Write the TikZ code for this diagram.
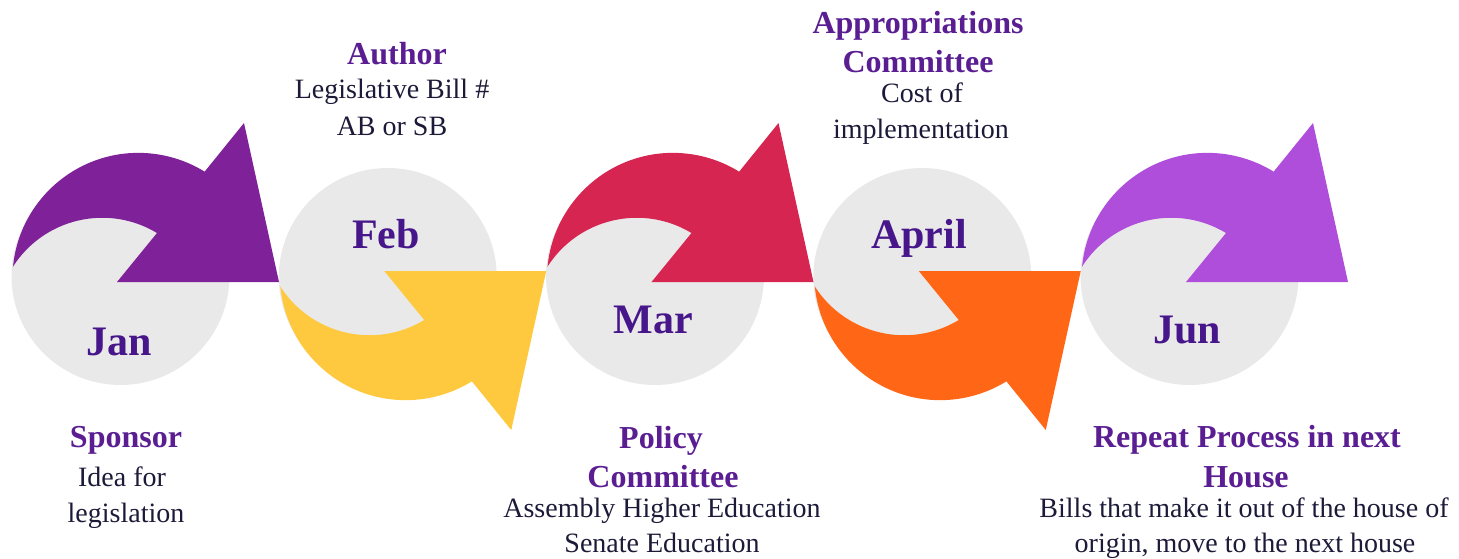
\documentclass[tikz,border=0pt]{standalone}
\usepackage{fontspec}
\setmainfont{Liberation Serif}
\definecolor{cJan}{HTML}{7F2199}
\definecolor{cFeb}{HTML}{FFC93F}
\definecolor{cMar}{HTML}{D62550}
\definecolor{cApr}{HTML}{FF6716}
\definecolor{cJun}{HTML}{B04EDC}
\definecolor{circ}{HTML}{E9E9E9}
\definecolor{month}{HTML}{46168A}
\definecolor{head}{HTML}{5A1E92}
\definecolor{bodytxt}{HTML}{1C1A38}
\tikzset{
  monthlbl/.style={anchor=base, text=month, font=\fontsize{21}{25}\selectfont\bfseries, inner sep=0pt},
  headlbl/.style={anchor=base, text=head, font=\fontsize{16}{19}\selectfont\bfseries, inner sep=0pt},
  bodylbl/.style={anchor=base, text=bodytxt, font=\fontsize{14}{17}\selectfont, inner sep=0pt},
  disc/.style={circle, fill=circ, draw=none, minimum size=109pt, inner sep=0pt},
  curvarrow/.pic={
    \fill[#1] (13,267) arc[start angle=185.4, end angle=301.7, radius=126]
      -- (244,123) -- (279,282) -- (117,282) -- (157,233)
      arc[start angle=301.1, end angle=212.6, radius=106] -- cycle;
  }
}
\begin{document}
\begin{tikzpicture}[x=0.5pt, y=-0.5pt]
\useasboundingbox (0,0) rectangle (1459,558);
% discs
\node[disc] (djan) at (120.5,276) {};
\node[disc] (dfeb) at (387.75,277) {};
\node[disc] (dmar) at (655,276) {};
\node[disc] (dapr) at (922.25,277) {};
\node[disc] (djun) at (1189.5,276) {};
% curved arrows
\pic (ajan) at (0,0) {curvarrow=cJan};
\pic[yscale=-1] (afeb) at (267.25,553) {curvarrow=cFeb};
\pic (amar) at (534.5,0) {curvarrow=cMar};
\pic[yscale=-1] (aapr) at (801.75,553) {curvarrow=cApr};
\pic (ajun) at (1069,0) {curvarrow=cJun};
% month labels
\node[monthlbl] (mjan) at (119,355) {Jan};
\node[monthlbl] (mfeb) at (386,248) {Feb};
\node[monthlbl] (mmar) at (653.5,333) {Mar};
\node[monthlbl] (mapr) at (919,248) {April};
\node[monthlbl] (mjun) at (1187,343) {Jun};
% Sponsor
\node[headlbl] (sp1) at (126,447) {Sponsor};
\node[bodylbl] (sp2) at (122,486) {Idea for};
\node[bodylbl] (sp3) at (126,522) {legislation};
% Author
\node[headlbl] (au1) at (397,64) {Author};
\node[bodylbl] (au2) at (392,98) {Legislative Bill \#};
\node[bodylbl] (au3) at (392,135) {AB or SB};
% Appropriations
\node[headlbl] (ap1) at (918,33) {Appropriations};
\node[headlbl] (ap2) at (918,72) {Committee};
\node[bodylbl] (ap3) at (922,102) {Cost of};
\node[bodylbl] (ap4) at (921,138) {implementation};
% Policy
\node[headlbl] (po1) at (661,448) {Policy};
\node[headlbl] (po2) at (663,487) {Committee};
\node[bodylbl] (po3) at (662,517) {Assembly Higher Education};
\node[bodylbl] (po4) at (662,552) {Senate Education};
% Repeat
\node[headlbl] (re1) at (1247,447) {Repeat Process in next};
\node[headlbl] (re2) at (1246,487) {House};
\node[bodylbl] (re3) at (1244,517) {Bills that make it out of the house of};
\node[bodylbl] (re4) at (1245,552) {origin, move to the next house};
\end{tikzpicture}
\end{document}
